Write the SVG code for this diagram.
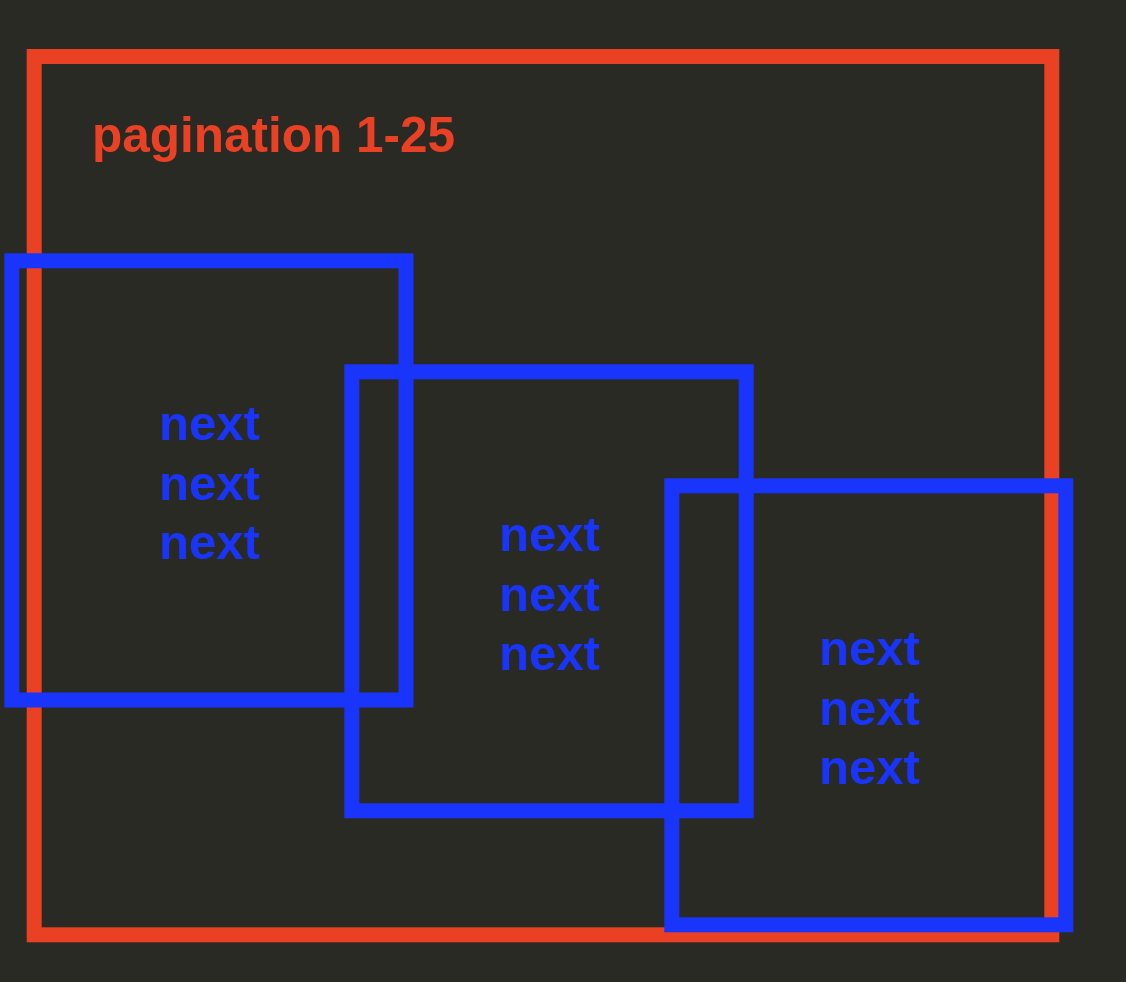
<svg xmlns="http://www.w3.org/2000/svg" width="1126" height="982" viewBox="0 0 1126 982">
<style>
.bg{fill:#2a2a24}
.outer{fill:none;stroke:#ea4124;stroke-width:15}
.page{fill:none;stroke:#1a35fb;stroke-width:15}
.title{fill:#ea4124;font-family:"Liberation Sans",Arial,sans-serif;font-weight:bold;font-size:49.5px}
.lbl{fill:#1a35fb;font-family:"Liberation Sans",Arial,sans-serif;font-weight:bold;font-size:49px}
</style>
<rect class="bg" x="0" y="0" width="1126" height="982"/>
<g id="pagination">
<rect class="outer" x="34.2" y="56.5" width="1017.6" height="878.3"/>
<text class="title" x="92" y="152">pagination 1-25</text>
</g>
<g id="page1">
<rect class="page" x="11.8" y="260.8" width="394.2" height="439.2"/>
<text class="lbl" x="159" y="440">next</text>
<text class="lbl" x="159" y="499.5">next</text>
<text class="lbl" x="159" y="559">next</text>
</g>
<g id="page2">
<rect class="page" x="351.8" y="371.8" width="394.4" height="439"/>
<text class="lbl" x="499" y="551">next</text>
<text class="lbl" x="499" y="610.5">next</text>
<text class="lbl" x="499" y="670">next</text>
</g>
<g id="page3">
<rect class="page" x="671.8" y="485.8" width="394" height="439"/>
<text class="lbl" x="819" y="665">next</text>
<text class="lbl" x="819" y="724.5">next</text>
<text class="lbl" x="819" y="784">next</text>
</g>
<g id="connectors"/>
</svg>
